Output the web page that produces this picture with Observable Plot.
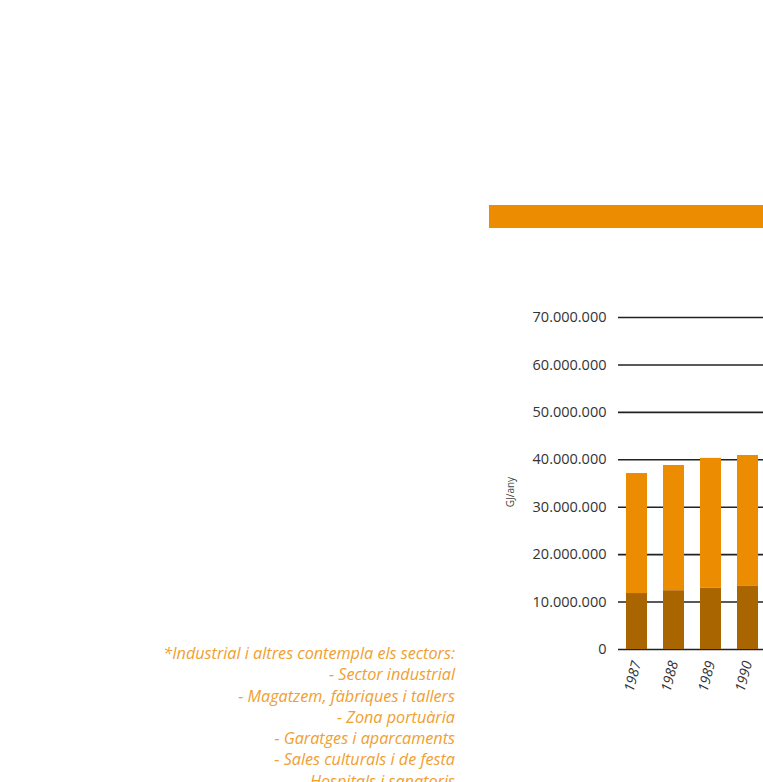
<!DOCTYPE html>
<html>
<head>
<meta charset="utf-8">
<script src="https://cdn.jsdelivr.net/npm/d3@7"></script>
<script src="https://cdn.jsdelivr.net/npm/@observablehq/plot@0.6"></script>
<style>
  html, body { margin: 0; padding: 0; width: 763px; height: 782px; overflow: hidden; background: #fff; }
  #band { position: absolute; left: 489px; top: 205px; width: 300px; height: 23px; background: #ec8c00; }
  #chart { position: absolute; left: 0; top: 0; width: 800px; }
  #chart svg { max-width: none !important; }
  #note { position: absolute; right: 308px; top: 643px; text-align: right;
          font-family: "Open Sans", "Liberation Sans", sans-serif; font-style: italic; font-size: 16.2px;
          line-height: 21.3px; color: #f0a030; white-space: nowrap; }
</style>
</head>
<body>
<div id="chart"></div>
<div id="band"></div>
<div id="note"></div>
<script>
const years = ["1987", "1988", "1989", "1990"];
const seriesNames = ["Domèstic", "Industrial i altres*"];
const darkValues = [11800000, 12400000, 12900000, 13300000];
const lightValues = [25300000, 26400000, 27400000, 27600000];
const yTicks = [0, 10000000, 20000000, 30000000, 40000000, 50000000, 60000000, 70000000];
const yLabel = "GJ/any";
const noteLines = [
  "*Industrial i altres contempla els sectors:",
  "- Sector industrial",
  "- Magatzem, fàbriques i tallers",
  "- Zona portuària",
  "- Garatges i aparcaments",
  "- Sales culturals i de festa",
  "- Hospitals i sanatoris"
];
const colors = ["#a86500", "#ec8c00"];

const data = [];
years.forEach((y, i) => {
  data.push({year: y, series: seriesNames[0], value: darkValues[i]});
  data.push({year: y, series: seriesNames[1], value: lightValues[i]});
});

const fmt = d => d3.format(",")(d).replace(/,/g, ".");

const chart = Plot.plot({
  width: 800,
  height: 782,
  marginLeft: 618,
  marginRight: 0,
  marginTop: 300,
  marginBottom: 133,
  style: {fontFamily: "'Open Sans', 'Liberation Sans', sans-serif", fontSize: "14px", color: "#333", background: "transparent", maxWidth: "none"},
  x: {domain: years, range: [618, 766], paddingInner: 0.42, paddingOuter: 0.158, label: null},
  y: {domain: [0, 70000000], range: [649, 317], label: null},
  color: {domain: seriesNames, range: colors},
  marks: [
    Plot.ruleY(yTicks, {stroke: "#222", strokeWidth: 1.6}),
    Plot.barY(data, {x: "year", y: "value", fill: "series", order: seriesNames}),
    Plot.axisY({ticks: yTicks, tickFormat: fmt, tickSize: 0, tickPadding: 12, label: null, fill: "#333", fontSize: 14.5}),
    Plot.axisX({tickSize: 0, tickRotate: -75, tickPadding: 12, fontStyle: "italic", fontSize: 14, label: null, fill: "#333"}),
    Plot.text([yLabel], {frameAnchor: "left", dx: -108, y: [30000000], text: d => d, rotate: -90, fontSize: 10, fill: "#444"})
  ]
});
document.getElementById("chart").appendChild(chart);
document.getElementById("note").innerHTML = noteLines.map(s => `<div>${s}</div>`).join("");
</script>
</body>
</html>
